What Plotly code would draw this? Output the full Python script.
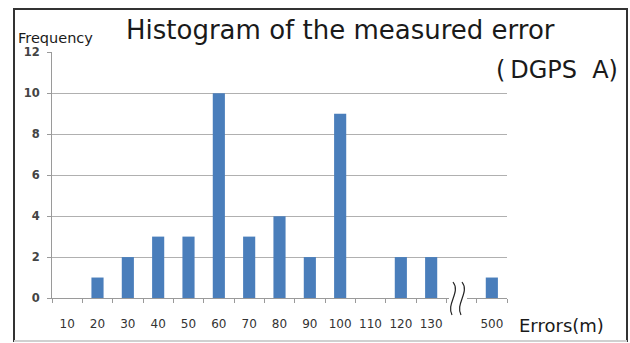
import plotly.graph_objects as go

categories = ["10", "20", "30", "40", "50", "60", "70", "80", "90", "100", "110", "120", "130", " ", "500"]
frequency = [0, 1, 2, 3, 3, 10, 3, 4, 2, 9, 0, 2, 2, 0, 1]
y_ticks = [0, 2, 4, 6, 8, 10, 12]

L, R, T, B = 52, 507, 52, 298
W, H = 630, 343
def px(x):
    return (x - L) / (R - L)
def py(y):
    return (B - y) / (B - T)

fig = go.Figure(go.Bar(x=categories, y=frequency, marker_color="#4a7ebb", marker_line_width=0))

fig.update_layout(
    width=W, height=H,
    margin=dict(l=L, r=W - R, t=T, b=H - B, autoexpand=False),
    paper_bgcolor="white", plot_bgcolor="white",
    bargap=0.6, showlegend=False,
    font=dict(family="DejaVu Sans", color="#333"),
)
fig.update_xaxes(
    type="category", categoryorder="array", categoryarray=categories,
    showline=True, linecolor="#9a9a9a", linewidth=1, automargin=False,
    ticks="outside", tickson="boundaries", ticklen=4, tickcolor="#9a9a9a",
    showgrid=False, tickangle=0, tickfont=dict(size=12, color="#333"), ticklabelstandoff=15,
)
fig.update_yaxes(
    range=[0, 12.02], tickvals=y_ticks, automargin=False,
    showgrid=True, gridcolor="#b0b0b0", gridwidth=1,
    showline=True, linecolor="#9a9a9a", zeroline=False,
    ticks="outside", ticklen=4, tickcolor="#9a9a9a", ticklabelstandoff=5,
    tickfont=dict(size=11.5, color="#444", family="DejaVu Sans", weight="bold"),
)

shapes = []
# break in axis line
shapes.append(dict(type="rect", xref="paper", yref="paper", x0=px(449), x1=px(467), y0=py(301), y1=py(295),
                   fillcolor="white", line_width=0, layer="above"))
for dx in (0, 9):
    path = "M {} {} C {} {} {} {} {} {}".format(
        px(453 + dx), py(282), px(461 + dx), py(292), px(446 + dx), py(304), px(452 + dx), py(315))
    shapes.append(dict(type="path", xref="paper", yref="paper", path=path,
                       line=dict(color="#222", width=1.2), layer="above"))
# outer frame
bx0, bx1, by0, by1 = px(14), px(627), py(341), py(9)
frame = dict(type="rect", xref="paper", yref="paper", x0=bx0, x1=bx1, y0=by0, y1=by1,
             line=dict(color="#333", width=2), fillcolor="rgba(0,0,0,0)", layer="above")
shapes.append(frame)
shapes.append(dict(type="line", xref="paper", yref="paper", x0=bx0, x1=bx1, y0=by0, y1=by0,
                   line=dict(color="#d0d0d0", width=2), layer="above"))
fig.update_layout(shapes=shapes)

ann = [
    dict(text="Histogram of the measured error", x=px(340), y=py(30), size=26, color="#1a1a1a"),
    dict(text="(\u2009DGPS  A)", x=px(557), y=py(70), size=24, color="#1a1a1a"),
    dict(text="Frequency", x=px(55), y=py(38), size=14.5, color="#1a1a1a"),
    dict(text="Errors(m)", x=px(561), y=py(325), size=18, color="#1a1a1a"),
]
fig.update_layout(annotations=[
    dict(text=a["text"], x=a["x"], y=a["y"], xref="paper", yref="paper", showarrow=False,
         xanchor="center", yanchor="middle", font=dict(size=a["size"], color=a["color"], family="DejaVu Sans"))
    for a in ann
])

fig.write_html("out.html", config={"displayModeBar": False},
               post_script="document.body.style.margin='0';document.body.style.padding='0';")
